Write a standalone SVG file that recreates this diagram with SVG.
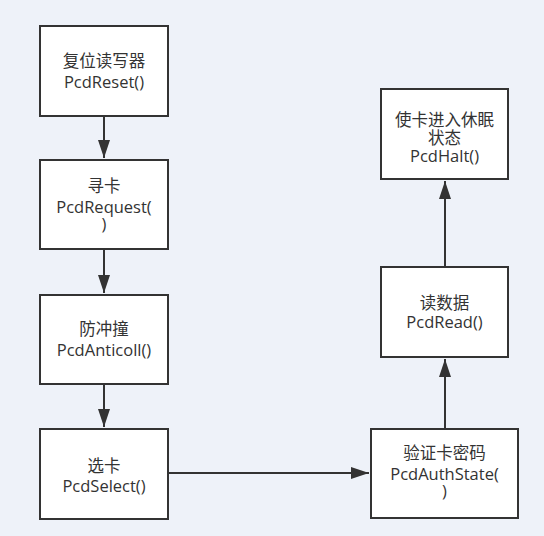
<svg xmlns="http://www.w3.org/2000/svg" width="544" height="536" viewBox="0 0 544 536">
<style>
.box{fill:#ffffff;stroke:#333333;stroke-width:2}
.t{font-family:"Open Sans","Noto Sans CJK SC",sans-serif;font-size:16.5px;fill:#333333;text-anchor:middle}
.c{font-family:"Noto Sans CJK SC","Open Sans",sans-serif;font-size:16.5px;fill:#333333;text-anchor:middle}
.edge{stroke:#333333;stroke-width:2;fill:none}
</style>
<defs>
<marker id="arr" markerUnits="userSpaceOnUse" markerWidth="18" markerHeight="12" refX="18" refY="6" orient="auto">
<path d="M0,0 L18,6 L0,12 Z" fill="#333333"/>
</marker>
</defs>
<rect x="0" y="0" width="544" height="536" fill="#EEF2F9"/>
<g id="connectors">
<line class="edge" x1="104" y1="116" x2="104" y2="158" marker-end="url(#arr)"/>
<line class="edge" x1="104" y1="249" x2="104" y2="293" marker-end="url(#arr)"/>
<line class="edge" x1="104" y1="384" x2="104" y2="427" marker-end="url(#arr)"/>
<line class="edge" x1="168" y1="473" x2="369" y2="473" marker-end="url(#arr)"/>
<line class="edge" x1="445" y1="429" x2="445" y2="359" marker-end="url(#arr)"/>
<line class="edge" x1="445" y1="267" x2="445" y2="181" marker-end="url(#arr)"/>
</g>
<g id="reset">
<rect class="box" x="40" y="26" width="128" height="90"/>
<text class="c" x="104" y="66.5">复位读写器</text>
<text class="t" x="104" y="88">PcdReset()</text>
</g>
<g id="request">
<rect class="box" x="40" y="160" width="128" height="89"/>
<text class="c" x="104" y="192">寻卡</text>
<text class="t" x="104" y="212.5">PcdRequest(</text>
<text class="t" x="104" y="230">)</text>
</g>
<g id="anticoll">
<rect class="box" x="40" y="295" width="128" height="89"/>
<text class="c" x="104" y="335">防冲撞</text>
<text class="t" x="104" y="356">PcdAnticoll()</text>
</g>
<g id="select">
<rect class="box" x="40" y="429" width="128" height="90"/>
<text class="c" x="104" y="471.5">选卡</text>
<text class="t" x="104" y="491.5">PcdSelect()</text>
</g>
<g id="auth">
<rect class="box" x="371" y="429" width="147" height="89"/>
<text class="c" x="444.5" y="458.5">验证卡密码</text>
<text class="t" x="444.5" y="479.5">PcdAuthState(</text>
<text class="t" x="444.5" y="497">)</text>
</g>
<g id="read">
<rect class="box" x="381" y="267" width="127" height="90"/>
<text class="c" x="444.5" y="309">读数据</text>
<text class="t" x="444.5" y="328.3">PcdRead()</text>
</g>
<g id="halt">
<rect class="box" x="381" y="89" width="127" height="90"/>
<text class="c" x="444.5" y="125.5">使卡进入休眠</text>
<text class="c" x="444.5" y="144">状态</text>
<text class="t" x="444.5" y="162">PcdHalt()</text>
</g>
</svg>
